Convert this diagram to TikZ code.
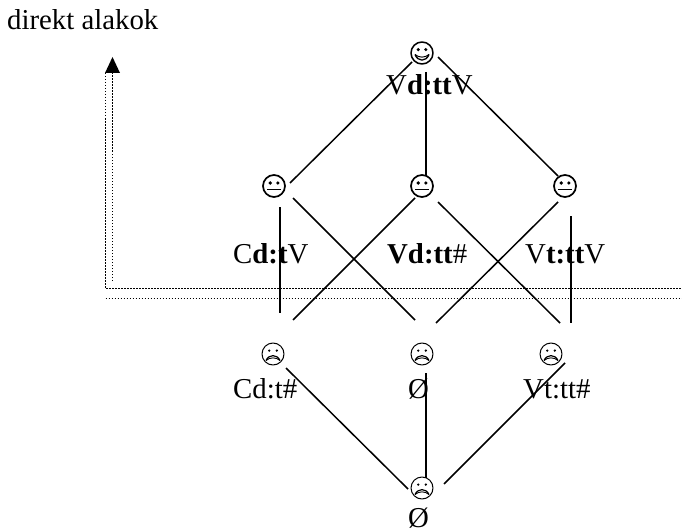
\documentclass[tikz,border=0pt]{standalone}
\usepackage{fontspec}
\setmainfont{Liberation Serif}
\tikzset{
	lbl/.style={anchor=base west,inner sep=0pt},
	face/.style={circle,draw,inner sep=0pt,minimum size=22pt},
	glad/.style={face,line width=1.5pt,path picture={
		\begin{scope}[shift={(path picture bounding box.center)}]
		\fill (-3.8,-3.4) circle(1.7) (3.8,-3.4) circle(1.7);
		\draw[line width=1.3pt] (-7,1.5) .. controls (-4,9) and (4,9) .. (7,1.5);
		\draw[line width=1pt] (-7,1.5) .. controls (-3,5) and (3,5) .. (7,1.5);
		\end{scope}}},
	flat/.style={face,line width=1.7pt,path picture={
		\begin{scope}[shift={(path picture bounding box.center)}]
		\fill (-3.8,-3) circle(1.8) (3.8,-3) circle(1.8);
		\draw[line width=1.8pt] (-6.6,3.5) -- (6.6,3.5);
		\end{scope}}},
	sad/.style={face,line width=1pt,path picture={
		\begin{scope}[shift={(path picture bounding box.center)}]
		\fill (-3.8,-3.4) circle(1.3) (3.8,-3.4) circle(1.3);
		\draw[line width=1.2pt] (-7,6.5) .. controls (-4,0) and (4,0) .. (7,6.5);
		\draw[line width=0.9pt] (-7,6.5) .. controls (-3,3) and (3,3) .. (7,6.5);
		\end{scope}}},
	edge/.style={line width=1.5pt},
	rail/.style={line width=1.3pt,dash pattern=on 1.5pt off 1.5pt}
}
\begin{document}
\begin{tikzpicture}[x=1pt,y=-1pt,font=\fontsize{28.8}{32}\selectfont,line join=round]
	\useasboundingbox (0,0) rectangle (682,532);
	\node[lbl] (title) at (7,30) {direkt alakok};
	\node[glad] (top) at (422,53) {};
	\node[flat] (nl) at (274,186) {};
	\node[flat] (nc) at (422,186) {};
	\node[flat] (nr) at (565,186) {};
	\node[sad] (sl) at (273,354) {};
	\node[sad] (sc) at (422,354) {};
	\node[sad] (sr) at (551,354) {};
	\node[sad] (bot) at (422,488) {};
	\node[lbl] (VdttV) at (386,95) {V\textbf{d:tt}V};
	\node[lbl] (CdtV) at (233,263) {C\textbf{d:t}V};
	\node[lbl] (Vdtt) at (387,263) {\textbf{Vd:tt}\#};
	\node[lbl] (VttV) at (525,263) {V\textbf{t:tt}V};
	\node[lbl] (Cdt) at (233,398) {Cd:t\#};
	\node[lbl] (emptyc) at (408,398) {Ø};
	\node[lbl] (Vtt) at (523,398) {Vt:tt\#};
	\node[lbl] (emptyb) at (408,527.5) {Ø};
	\path
	(412,62) coordinate (A1)
	(290,183) coordinate (A2)
	(426,72) coordinate (B1)
	(426,175) coordinate (B2)
	(438,57) coordinate (C1)
	(558,176) coordinate (C2)
	(280,207) coordinate (D1)
	(280,313) coordinate (D2)
	(293,198) coordinate (E1)
	(415,320) coordinate (E2)
	(293,320) coordinate (F1)
	(415,198) coordinate (F2)
	(438,202) coordinate (G1)
	(560,323) coordinate (G2)
	(436,323) coordinate (H1)
	(558,202) coordinate (H2)
	(571,216) coordinate (I1)
	(571,323) coordinate (I2)
	(286,368) coordinate (J1)
	(408,489) coordinate (J2)
	(426,373) coordinate (K1)
	(426,478) coordinate (K2)
	(565,363) coordinate (L1)
	(444,484) coordinate (L2)
	(105.5,73) coordinate (R1)
	(105.5,288.5) coordinate (R2)
	(682,288.5) coordinate (R3)
	(105.5,298.5) coordinate (R4)
	(682,298.5) coordinate (R5)
	(112.5,281) coordinate (R6)
	(112.5,72) coordinate (R8)
	(112.5,57) coordinate (tip)
	(120,73) coordinate (tipr)
	(105,73) coordinate (tipl)
	;
	\foreach \x in {A,B,C,D,E,F,G,H,I,J,K,L}
	\draw[edge] (\x1)--(\x2);
	\draw[rail] (R1)--(R2)--(R3) (R4)--(R5) (R6)--(R8);
	\fill (tip)--(tipr)--(tipl)--cycle;
\end{tikzpicture}
\end{document}
